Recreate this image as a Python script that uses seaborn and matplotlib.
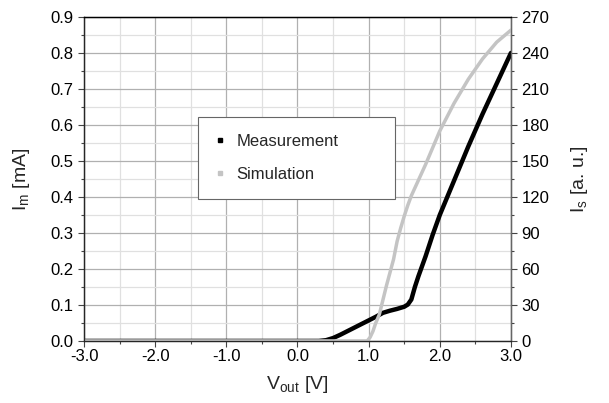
import matplotlib
matplotlib.use("Agg")
import matplotlib.pyplot as plt
from matplotlib.ticker import MultipleLocator, FormatStrFormatter
from matplotlib.lines import Line2D
import seaborn as sns
import pandas as pd

# Measurement: V_out [V] vs I_m [mA]
meas_v = [-3.0, 0.3, 0.4, 0.5, 0.6, 0.7, 0.8, 0.9, 1.0, 1.1, 1.2, 1.3, 1.4, 1.5,
          1.55, 1.6, 1.65, 1.7, 1.8, 1.9, 2.0, 2.2, 2.4, 2.6, 2.8, 3.0]
meas_i = [0.0, 0.0, 0.002, 0.008, 0.017, 0.027, 0.037, 0.047, 0.057, 0.067, 0.078,
          0.084, 0.089, 0.095, 0.101, 0.115, 0.15, 0.18, 0.235, 0.295, 0.35,
          0.445, 0.54, 0.63, 0.715, 0.80]

# Simulation: V_out [V] vs I_s [a. u.]
sim_v = [-3.0, 0.98, 1.02, 1.06, 1.1, 1.15, 1.2, 1.25, 1.3, 1.35, 1.4, 1.45, 1.5,
         1.55, 1.6, 1.7, 1.8, 1.9, 2.0, 2.2, 2.4, 2.6, 2.8, 3.0]
sim_i = [0, 0, 3, 8, 15, 22, 34, 46, 57, 68, 83, 94, 104, 113, 121, 134, 147,
         161, 175, 198, 218, 235, 249, 259]

x_label = r"V$_\mathrm{out}$ [V]"
yl_label = r"I$_\mathrm{m}$ [mA]"
yr_label = r"I$_\mathrm{s}$ [a. u.]"
legend_labels = ["Measurement", "Simulation"]

sns.set_style("white")
plt.rcParams["font.family"] = ["Liberation Sans", "DejaVu Sans"]
plt.rcParams["mathtext.fontset"] = "custom"
plt.rcParams["mathtext.rm"] = "Liberation Sans"
plt.rcParams["mathtext.it"] = "Liberation Sans:italic"

df_m = pd.DataFrame({"V": meas_v, "I": meas_i})
df_s = pd.DataFrame({"V": sim_v, "I": sim_i})

fig = plt.figure(figsize=(6.09, 4.03), dpi=100)
ax = fig.add_axes([0.138, 0.154, 0.701, 0.804])
ax2 = ax.twinx()

meas_color = "#000000"
sim_color = "#c4c4c4"

sns.lineplot(data=df_m, x="V", y="I", ax=ax, color=meas_color, linewidth=3.2,
             sort=False, legend=False)
sns.lineplot(data=df_s, x="V", y="I", ax=ax2, color=sim_color, linewidth=2.5,
             sort=False, legend=False)

ax.set_xlim(-3.0, 3.0)
ax.set_ylim(0.0, 0.9)
ax2.set_ylim(0, 270)

ax.xaxis.set_major_locator(MultipleLocator(1.0))
ax.xaxis.set_minor_locator(MultipleLocator(0.5))
ax.xaxis.set_major_formatter(FormatStrFormatter("%.1f"))
ax.yaxis.set_major_locator(MultipleLocator(0.1))
ax.yaxis.set_minor_locator(MultipleLocator(0.05))
ax.yaxis.set_major_formatter(FormatStrFormatter("%.1f"))
ax2.yaxis.set_major_locator(MultipleLocator(30))
ax2.yaxis.set_minor_locator(MultipleLocator(15))

ax.set_axisbelow(True)
ax.grid(which="major", axis="both", color="#b0b0b0", linewidth=0.9)
ax.grid(which="minor", axis="both", color="#e0e0e0", linewidth=0.9)
ax2.grid(False)

ax.tick_params(axis="both", which="major", direction="out", length=4, width=0.8,
               labelsize=12, colors="#444444", labelcolor="black")
ax.tick_params(axis="both", which="minor", direction="out", length=2.5, width=0.8,
               colors="#444444")
ax.tick_params(axis="x", which="both", bottom=True)
ax.tick_params(axis="y", which="both", left=True)
ax.tick_params(axis="x", pad=2)
ax2.tick_params(axis="y", which="major", direction="out", length=4, width=0.8,
                labelsize=12, colors="#444444", labelcolor="black", right=True)
ax2.tick_params(axis="y", which="minor", direction="out", length=2.5, width=0.8,
                colors="#444444", right=True)

for a in (ax, ax2):
    for side in a.spines.values():
        side.set_linewidth(0.9)
ax.spines["left"].set_color("#333333")
ax.spines["bottom"].set_color("#555555")
ax.spines["top"].set_color("black")
ax2.spines["right"].set_color("#666666")
ax2.spines["top"].set_color("black")

ax.set_xlabel(x_label, fontsize=14, labelpad=7)
ax.set_ylabel(yl_label, fontsize=14, labelpad=13)
ax2.set_ylabel(yr_label, fontsize=14, labelpad=14)
ax2.set_xlabel("")

handles = [Line2D([], [], linestyle="none", marker="s", markersize=3,
                  color=meas_color),
           Line2D([], [], linestyle="none", marker="s", markersize=3,
                  color=sim_color)]
leg = ax2.legend(handles, legend_labels, loc="upper left",
                 bbox_to_anchor=(0.267, 0.444, 0.461, 0.247), mode="expand",
                 fontsize=12, frameon=True, fancybox=False, shadow=False,
                 borderpad=1.0, labelspacing=1.1, handlelength=0.6,
                 handletextpad=0.7, borderaxespad=0)
leg.get_frame().set_edgecolor("#666666")
leg.get_frame().set_linewidth(0.8)
leg.get_frame().set_alpha(1.0)

fig.savefig("out.png", dpi=100)
